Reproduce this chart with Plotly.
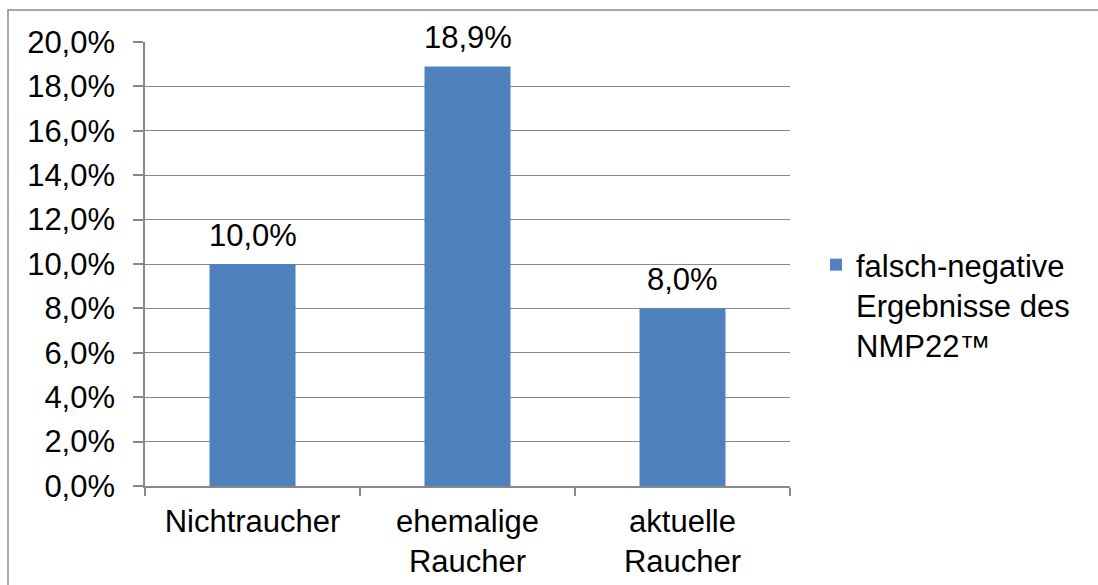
import plotly.graph_objects as go

# Anteil falsch-negativer NMP22-Ergebnisse nach Raucherstatus
categories = ["Nichtraucher", "ehemalige<br>Raucher", "aktuelle<br>Raucher"]
values = [0.100, 0.189, 0.080]
series_name = "falsch-negative<br>Ergebnisse des<br>NMP22™"

BAR_COLOR = "#4F81BD"
GRID_COLOR = "#898989"
FONT = "Liberation Sans, Arial, sans-serif"
FS = 31

W, H = 1098, 585
L, R, T, B = 145, 308, 42, 99
PW, PH = W - L - R, H - T - B


def px_x(p):
    return (p - L) / PW


def px_y(q):
    return (H - B - q) / PH


def pct_label(v):
    return f"{v * 100:.1f}%".replace(".", ",")


fig = go.Figure()
fig.add_trace(go.Bar(
    x=categories,
    y=values,
    name=series_name,
    marker=dict(color=BAR_COLOR, line=dict(width=0)),
    showlegend=True,
))

# value labels above each bar
annotations = [
    dict(x=c, y=v, xref="x", yref="y", text=pct_label(v), showarrow=False,
         yanchor="bottom", yshift=9,
         font=dict(family=FONT, size=FS, color="black"))
    for c, v in zip(categories, values)
]

fig.update_layout(
    width=W, height=H,
    margin=dict(l=L, r=R, t=T, b=B, autoexpand=False),
    paper_bgcolor="white",
    plot_bgcolor="white",
    separators=",.",
    font=dict(family=FONT, size=FS, color="black"),
    bargap=0.6,
    showlegend=True,
    annotations=annotations,
    legend=dict(
        x=px_x(816), y=px_y(238), xanchor="left", yanchor="top",
        valign="top", font=dict(family=FONT, size=FS, color="black"),
        bgcolor="rgba(0,0,0,0)", tracegroupgap=0,
    ),
    xaxis=dict(
        showline=True, linecolor=GRID_COLOR, linewidth=1.5,
        ticks="outside", tickson="boundaries", ticklen=8,
        tickcolor=GRID_COLOR, tickwidth=1.5, ticklabelstandoff=7,
        showgrid=False, tickfont=dict(family=FONT, size=FS, color="black"),
    ),
    yaxis=dict(
        range=[0, 0.2], dtick=0.02, tickformat=".1%",
        showline=True, linecolor=GRID_COLOR, linewidth=1.5,
        ticks="outside", ticklen=10, tickcolor=GRID_COLOR, tickwidth=1.5,
        showgrid=True, gridcolor=GRID_COLOR, gridwidth=1.2,
        zeroline=False, ticklabelstandoff=12,
        tickfont=dict(family=FONT, size=FS, color="black"),
    ),
    shapes=[dict(
        type="rect", xref="paper", yref="paper",
        x0=px_x(8), y0=px_y(10), x1=px_x(1120), y1=px_y(620),
        line=dict(color=GRID_COLOR, width=1.5), fillcolor="rgba(0,0,0,0)",
        layer="below",
    )],
)

fig.write_html("out.html")
